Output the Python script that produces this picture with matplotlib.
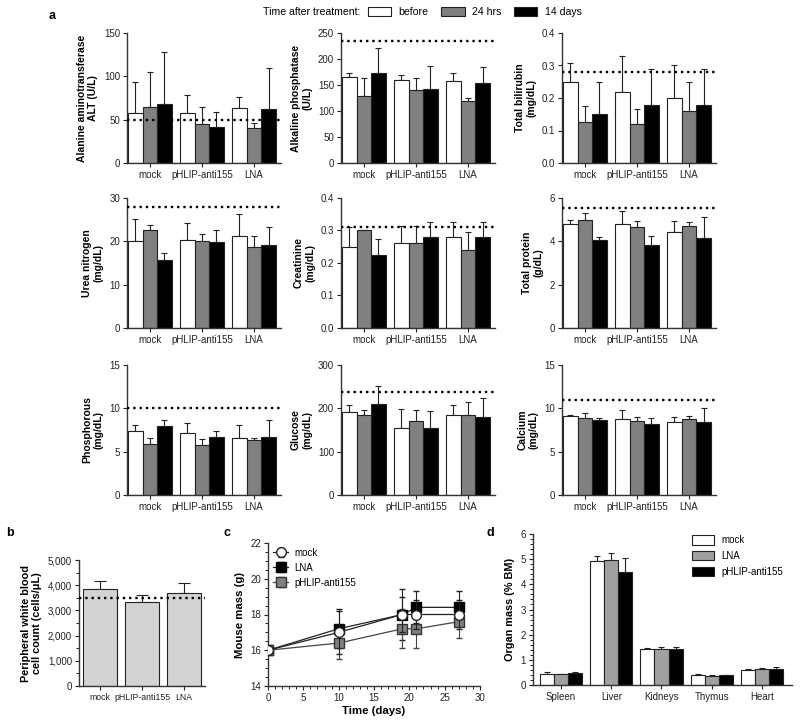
import numpy as np
import matplotlib
matplotlib.use("Agg")
import matplotlib.pyplot as plt
from matplotlib.patches import Patch
from matplotlib.ticker import MultipleLocator, FuncFormatter

plt.rcParams['font.family'] = ['Liberation Sans', 'DejaVu Sans']
plt.rcParams['axes.linewidth'] = 1.0
plt.rcParams['axes.edgecolor'] = '#333333'

# groups and time points
groups = ['mock', 'pHLIP-anti155', 'LNA']
times = ['before', '24 hrs', '14 days']
time_colors = ['white', '#808080', 'black']

# blood chemistry: rows = groups, columns = time points
alt_mean = [[58, 65, 68], [58, 45, 41], [63, 40, 62]]
alt_err = [[35, 40, 60], [21, 20, 18], [13, 6, 48]]
alp_mean = [[165, 128, 173], [159, 141, 142], [157, 119, 154]]
alp_err = [[9, 36, 48], [11, 23, 44], [17, 6, 31]]
bili_mean = [[0.25, 0.125, 0.15], [0.22, 0.12, 0.18], [0.20, 0.16, 0.18]]
bili_err = [[0.057, 0.05, 0.10], [0.11, 0.045, 0.11], [0.10, 0.09, 0.11]]
urea_mean = [[20, 22.5, 15.8], [20.2, 20, 19.8], [21.2, 18.7, 19.2]]
urea_err = [[5.2, 1.3, 1.5], [4.1, 1.8, 2.7], [5.2, 2.6, 4.0]]
creat_mean = [[0.25, 0.30, 0.225], [0.26, 0.26, 0.28], [0.28, 0.24, 0.28]]
creat_err = [[0.06, 0.0, 0.05], [0.055, 0.055, 0.045], [0.045, 0.055, 0.045]]
prot_mean = [[4.8, 5.0, 4.05], [4.8, 4.65, 3.85], [4.45, 4.7, 4.15]]
prot_err = [[0.2, 0.3, 0.15], [0.6, 0.3, 0.4], [0.5, 0.2, 0.95]]
phos_mean = [[7.4, 5.9, 8.0], [7.1, 5.8, 6.7], [6.6, 6.4, 6.7]]
phos_err = [[0.7, 0.7, 0.6], [1.2, 0.7, 0.7], [1.5, 0.2, 1.9]]
gluc_mean = [[191, 184, 210], [154, 171, 155], [184, 184, 180]]
gluc_err = [[17, 13, 41], [45, 25, 39], [23, 30, 43]]
ca_mean = [[9.1, 8.9, 8.6], [8.8, 8.5, 8.2], [8.4, 8.8, 8.4]]
ca_err = [[0.1, 0.6, 0.3], [1.0, 0.5, 0.7], [0.6, 0.3, 1.6]]

# normal reference limits (dotted lines)
ref_lines = [50, 234, 0.28, 28, 0.31, 5.55, 10, 237, 11]
ylabels = ['Alanine aminotransferase\nALT (U/L)', 'Alkaline phosphatase\n(U/L)',
           'Total bilirubin\n(mg/dL)', 'Urea nitrogen\n(mg/dL)', 'Creatinine\n(mg/dL)',
           'Total protein\n(g/dL)', 'Phosphorous\n(mg/dL)', 'Glucose\n(mg/dL)',
           'Calcium\n(mg/dL)']
ymax = [150, 250, 0.4, 30, 0.4, 6, 15, 300, 15]
ystep = [50, 50, 0.1, 10, 0.1, 2, 5, 100, 5]

# panel b
wbc = [3830, 3330, 3700]
wbc_err = [350, 290, 400]
wbc_ref = 3480

# panel c
days = [0, 10, 19, 21, 27]
mass_mock = [16, 17.0, 18.0, 18.0, 18.0]
mass_mock_err = [0, 1.2, 1.0, 0.8, 0.8]
mass_lna = [16, 17.2, 18.0, 18.4, 18.4]
mass_lna_err = [0, 1.1, 1.4, 0.9, 0.9]
mass_phlip = [16, 16.4, 17.2, 17.2, 17.6]
mass_phlip_err = [0, 0.9, 1.1, 1.1, 0.9]

# panel d: rows = organs, columns = mock, LNA, pHLIP-anti155
organs = ['Spleen', 'Liver', 'Kidneys', 'Thymus', 'Heart']
organ_series = ['mock', 'LNA', 'pHLIP-anti155']
organ_mean = [[0.45, 0.42, 0.46], [4.92, 4.98, 4.50], [1.42, 1.43, 1.44],
              [0.40, 0.37, 0.38], [0.60, 0.64, 0.62]]
organ_err = [[0.05, 0.03, 0.06], [0.20, 0.27, 0.55], [0.06, 0.09, 0.08],
             [0.03, 0.03, 0.02], [0.02, 0.04, 0.08]]

W, H = 800, 724
fig = plt.figure(figsize=(W / 100, H / 100), dpi=100)


def px_axes(x0, y0, x1, y1):
    return fig.add_axes([x0 / W, 1 - y1 / H, (x1 - x0) / W, (y1 - y0) / H])


def style(ax):
    for s in ['top', 'right']:
        ax.spines[s].set_visible(False)
    ax.tick_params(direction='out', length=3, width=0.8, labelsize=7, pad=2,
                   colors='#222222')


def grouped_bars(ax, means, errs, colors, width=0.28):
    means = np.array(means)
    errs = np.array(errs)
    n = means.shape[1]
    x = np.arange(means.shape[0])
    for j in range(n):
        pos = x + (j - (n - 1) / 2) * width
        ax.bar(pos, means[:, j], width, color=colors[j], edgecolor='#222222',
               linewidth=0.8, zorder=2)
        ax.errorbar(pos, means[:, j], yerr=[np.zeros(len(pos)), errs[:, j]],
                    fmt='none', ecolor='#222222', elinewidth=0.8, capsize=2,
                    capthick=0.8, zorder=1)


chem_means = [alt_mean, alp_mean, bili_mean, urea_mean, creat_mean, prot_mean,
              phos_mean, gluc_mean, ca_mean]
chem_errs = [alt_err, alp_err, bili_err, urea_err, creat_err, prot_err,
             phos_err, gluc_err, ca_err]
col_x = [127, 341, 562]
row_y = [33, 198, 365]

for i in range(9):
    r, c = divmod(i, 3)
    ax = px_axes(col_x[c], row_y[r], col_x[c] + 154, row_y[r] + 130)
    style(ax)
    grouped_bars(ax, chem_means[i], chem_errs[i], time_colors)
    ax.axhline(ref_lines[i], color='black', linestyle=':', linewidth=1.7, zorder=3)
    ax.set_xlim(-0.44, 2.52)
    ax.set_ylim(0, ymax[i])
    ax.yaxis.set_major_locator(MultipleLocator(ystep[i]))
    if ystep[i] < 1:
        ax.yaxis.set_major_formatter(FuncFormatter(lambda v, p: f'{v:.1f}'))
    ax.set_xticks(range(3))
    ax.set_xticklabels(groups)
    ax.set_ylabel(ylabels[i], fontsize=7.5, fontweight='bold', labelpad=4)

# top legend for panel a
fig.text(263 / W, 1 - 12 / H, 'Time after treatment:', fontsize=7.6, va='center')
handles = [Patch(facecolor=col, edgecolor='#222222', linewidth=0.8) for col in time_colors]
fig.legend(handles, times, loc='center left', bbox_to_anchor=(368 / W, 1 - 12 / H),
           ncol=3, frameon=False, fontsize=7.6, handlelength=2.2, handleheight=1.0,
           columnspacing=1.2, handletextpad=0.7, borderaxespad=0, borderpad=0)

# panel b
axb = px_axes(79, 560, 205, 686)
style(axb)
axb.bar(range(3), wbc, 0.83, color='#d3d3d3', edgecolor='#222222', linewidth=0.8, zorder=2)
axb.errorbar(range(3), wbc, yerr=[np.zeros(3), wbc_err], fmt='none', ecolor='#222222',
             elinewidth=0.8, capsize=4, capthick=0.8, zorder=1)
axb.axhline(wbc_ref, color='black', linestyle=':', linewidth=1.7, zorder=3)
axb.set_xlim(-0.5, 2.5)
axb.set_ylim(0, 5000)
axb.yaxis.set_major_locator(MultipleLocator(1000))
axb.yaxis.set_minor_locator(MultipleLocator(500))
axb.tick_params(axis='y', which='minor', length=2)
axb.yaxis.set_major_formatter(FuncFormatter(lambda v, p: f'{int(v):,}'))
axb.set_xticks(range(3))
axb.set_xticklabels(groups, fontsize=6.3)
axb.set_ylabel('Peripheral white blood\ncell count (cells/\u03bcL)', fontsize=7.8,
               fontweight='bold')

# panel c
axc = px_axes(268, 543, 480, 686)
style(axc)
axc.errorbar(days, mass_mock, yerr=mass_mock_err, color='#222222', marker='o',
             markerfacecolor='white', markeredgecolor='#222222', markersize=7,
             linewidth=0.9, elinewidth=0.8, capsize=2, label='mock', zorder=3)
axc.errorbar(days, mass_lna, yerr=mass_lna_err, color='#222222', marker='s',
             markerfacecolor='black', markeredgecolor='black', markersize=7,
             linewidth=0.9, elinewidth=0.8, capsize=2, label='LNA', zorder=2)
axc.errorbar(days, mass_phlip, yerr=mass_phlip_err, color='#444444', marker='s',
             markerfacecolor='#808080', markeredgecolor='#333333', markersize=7,
             linewidth=0.9, elinewidth=0.8, capsize=2, label='pHLIP-anti155', zorder=2)
axc.set_xlim(0, 30)
axc.set_ylim(14, 22)
axc.xaxis.set_major_locator(MultipleLocator(5))
axc.xaxis.set_minor_locator(MultipleLocator(1))
axc.yaxis.set_major_locator(MultipleLocator(2))
axc.yaxis.set_minor_locator(MultipleLocator(0.5))
axc.tick_params(which='minor', length=2)
axc.set_xlabel('Time (days)', fontsize=8.2, fontweight='bold', labelpad=2)
axc.set_ylabel('Mouse mass (g)', fontsize=8.2, fontweight='bold')
axc.legend(loc='upper left', frameon=False, fontsize=7, handlelength=1.6,
           handletextpad=0.6, borderaxespad=0.1, labelspacing=0.5)

# panel d
axd = px_axes(533, 534, 792, 685)
style(axd)
grouped_bars(axd, organ_mean, organ_err, ['white', '#a0a0a0', 'black'])
axd.set_xlim(-0.56, 4.6)
axd.set_ylim(0, 6)
axd.yaxis.set_major_locator(MultipleLocator(1))
axd.yaxis.set_minor_locator(MultipleLocator(0.2))
axd.tick_params(axis='y', which='minor', length=2)
axd.set_xticks(range(5))
axd.set_xticklabels(organs)
axd.set_ylabel('Organ mass (% BM)', fontsize=7.8, fontweight='bold')
dh = [Patch(facecolor=col, edgecolor='#222222', linewidth=0.8)
      for col in ['white', '#a0a0a0', 'black']]
axd.legend(dh, organ_series, loc='upper right', bbox_to_anchor=(1.0, 1.05),
           frameon=False, fontsize=7, handlelength=2.2, handleheight=1.1,
           handletextpad=0.8, labelspacing=0.6)

# panel letters
for lab, x, y in [('a', 52, 16), ('b', 10, 533), ('c', 227, 533), ('d', 490, 533)]:
    fig.text(x / W, 1 - y / H, lab, fontsize=9, fontweight='bold', va='center', ha='center')

fig.savefig('out.png', dpi=100)
